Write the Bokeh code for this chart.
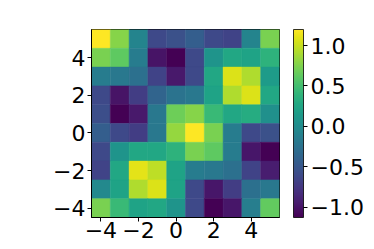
from bokeh.plotting import figure
from bokeh.models import (ColumnDataSource, LinearColorMapper, ColorBar, FixedTicker,
                          Range1d)
from bokeh.palettes import Viridis256
from bokeh.embed import file_html
from bokeh.resources import INLINE

# Cell centres
x_centers = [-4, -3, -2, -1, 0, 1, 2, 3, 4, 5]
y_centers = [5, 4, 3, 2, 1, 0, -1, -2, -3, -4]  # rows listed top to bottom

row_y5 = [1.20, 0.78, -0.08, -0.62, -0.55, -0.43, -0.62, -0.66, -0.08, 0.73]
row_y4 = [0.73, 0.62, -0.15, -1.01, -1.13, -0.62, 0.08, 0.27, 0.22, 0.38]
row_y3 = [-0.15, -0.20, -0.27, -0.66, -0.97, -0.62, 0.27, 1.08, 0.92, 0.15]
row_y2 = [-0.62, -1.01, -0.71, -0.38, -0.24, -0.20, 0.22, 0.92, 1.08, 0.27]
row_y1 = [-0.57, -1.13, -0.97, -0.20, 0.69, 0.78, 0.45, 0.27, 0.31, 0.04]
row_y0 = [-0.43, -0.62, -0.71, -0.20, 0.83, 1.20, 0.73, -0.15, -0.62, -0.55]
row_ym1 = [-0.62, 0.08, 0.27, 0.27, 0.38, 0.73, 0.62, -0.15, -0.99, -1.13]
row_ym2 = [-0.66, 0.27, 1.10, 0.97, 0.22, -0.15, -0.20, -0.27, -0.66, -0.94]
row_ym3 = [-0.03, 0.22, 0.92, 1.08, 0.22, -0.62, -0.99, -0.71, -0.27, -0.20]
row_ym4 = [0.73, 0.45, 0.22, 0.27, 0.08, -0.62, -1.13, -0.99, -0.13, 0.64]

rows = [row_y5, row_y4, row_y3, row_y2, row_y1, row_y0, row_ym1, row_ym2, row_ym3, row_ym4]

x_ticks = [-4, -2, 0, 2, 4]
y_ticks = [-4, -2, 0, 2, 4]
cb_ticks = [-1.0, -0.5, 0.0, 0.5, 1.0]

xs, ys, vs = [], [], []
for yc, row in zip(y_centers, rows):
    for xc, v in zip(x_centers, row):
        xs.append(xc)
        ys.append(yc)
        vs.append(v)

src = ColumnDataSource(dict(x=xs, y=ys, v=vs))
vmin = min(vs)
vmax = max(vs)
mapper = LinearColorMapper(palette=Viridis256, low=vmin, high=vmax)

FONT = "DejaVu Sans"
FS = "22px"

p = figure(frame_width=188, frame_height=188,
           x_range=Range1d(-4.5, 5.5), y_range=Range1d(-4.5, 5.5),
           output_backend="svg", toolbar_location=None,
           min_border_left=91, min_border_top=29, min_border_right=80, min_border_bottom=10)

p.rect(x="x", y="y", width=1, height=1, source=src,
       fill_color={"field": "v", "transform": mapper},
       line_color={"field": "v", "transform": mapper}, line_width=0.5)

p.grid.visible = False
p.outline_line_color = "black"
p.outline_line_width = 1

minus = "\u2212"
for ax, ticks in ((p.xaxis[0], x_ticks), (p.yaxis[0], y_ticks)):
    ax.ticker = FixedTicker(ticks=ticks)
    ax.major_label_overrides = {t: (minus + str(abs(t)) if t < 0 else str(t)) for t in ticks}
    ax.major_label_text_font = FONT
    ax.major_label_text_font_size = FS
    ax.major_label_text_color = "black"
    ax.major_tick_in = 0
    ax.major_tick_out = 4
    ax.minor_tick_line_color = None
    ax.major_tick_line_color = "black"
    ax.axis_line_color = "black"
    ax.major_label_standoff = 2
p.xaxis[0].major_label_standoff = 0

cb_labels = {t: (minus + f"{abs(t):.1f}" if t < 0 else f"{t:.1f}") for t in cb_ticks}
cb = ColorBar(color_mapper=mapper, ticker=FixedTicker(ticks=cb_ticks),
              major_label_overrides=cb_labels,
              location=(14, 0), width=10, height=188, padding=0, margin=0,
              major_label_text_font=FONT, major_label_text_font_size=FS,
              major_label_text_color="black",
              major_tick_in=0, major_tick_out=4, major_tick_line_color="black",
              bar_line_color="black", bar_line_width=0.8,
              border_line_color=None, background_fill_alpha=0,
              label_standoff=3)
p.add_layout(cb, "right")

open("out.html", "w").write(file_html(p, INLINE))
